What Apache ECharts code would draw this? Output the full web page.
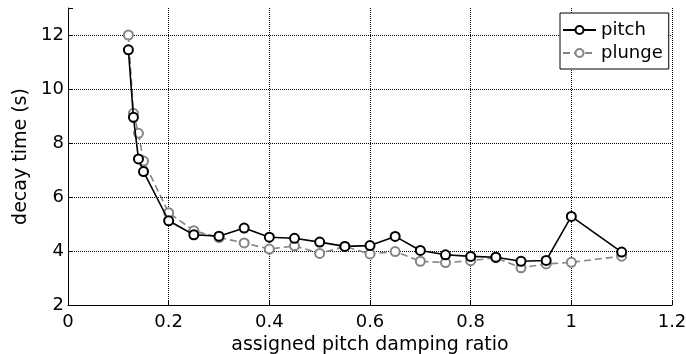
<!DOCTYPE html>
<html><head><meta charset="utf-8">
<script src="https://cdn.jsdelivr.net/npm/echarts@6/dist/echarts.min.js"></script>
<style>html,body{margin:0;padding:0;background:#fff}#c{width:686px;height:354px}</style>
</head><body><div id="c"></div>
<script>
var pitchX = [0.12, 0.13, 0.14, 0.15, 0.2, 0.25, 0.3, 0.35, 0.4, 0.45, 0.5, 0.55, 0.6, 0.65, 0.7, 0.75, 0.8, 0.85, 0.9, 0.95, 1.0, 1.1];
var pitchY = [11.45, 8.95, 7.41, 6.94, 5.12, 4.6, 4.55, 4.85, 4.51, 4.47, 4.33, 4.17, 4.2, 4.54, 4.02, 3.86, 3.8, 3.77, 3.62, 3.65, 5.28, 3.96];
var plungeX = [0.12, 0.13, 0.14, 0.15, 0.2, 0.25, 0.3, 0.35, 0.4, 0.45, 0.5, 0.55, 0.6, 0.65, 0.7, 0.75, 0.8, 0.85, 0.9, 0.95, 1.0, 1.1];
var plungeY = [12.0, 9.1, 8.36, 7.33, 5.42, 4.75, 4.5, 4.3, 4.07, 4.19, 3.91, 4.17, 3.89, 3.98, 3.62, 3.57, 3.64, 3.75, 3.38, 3.52, 3.58, 3.81];
var xName = 'assigned pitch damping ratio';
var yName = 'decay time (s)';

function pairs(xs, ys){ return xs.map(function(x,i){ return [x, ys[i]]; }); }
var font = 'DejaVu Sans, Arial, sans-serif';
var chart = echarts.init(document.getElementById('c'), null, {renderer:'canvas'});
chart.setOption({
  animation:false,
  backgroundColor:'#fff',
  grid:{left:68, right:14, top:8, bottom:49, containLabel:false, outerBoundsMode:'none'},
  legend:{
    orient:'vertical', left:560, top:13,
    backgroundColor:'#fff', borderColor:'#000', borderWidth:1,
    padding:[7,6,6,2], itemGap:3, itemWidth:33, itemHeight:10,
    textStyle:{fontFamily:font, fontSize:18, lineHeight:20, color:'#000'},
    data:['pitch','plunge']
  },
  xAxis:{
    type:'value', min:0, max:1.2, interval:0.2,
    name:xName, nameLocation:'middle', nameGap:26,
    nameTextStyle:{fontFamily:font, fontSize:19, color:'#000'},
    axisLine:{show:true, onZero:false, lineStyle:{color:'#000', width:1}},
    axisTick:{show:true, inside:true, length:5, lineStyle:{color:'#000'}},
    axisLabel:{fontFamily:font, fontSize:18, color:'#000', margin:8},
    splitLine:{show:true, showMinLine:false, lineStyle:{color:'#000', type:[1,1], width:1}}
  },
  yAxis:{
    type:'value', min:2, max:13, interval:2,
    name:yName, nameLocation:'middle', nameGap:35, nameRotate:90,
    nameTextStyle:{fontFamily:font, fontSize:19, color:'#000'},
    axisLine:{show:true, onZero:false, lineStyle:{color:'#000', width:1}},
    axisTick:{show:true, inside:true, length:5, lineStyle:{color:'#000'}},
    axisLabel:{fontFamily:font, fontSize:18, color:'#000', margin:4,
      formatter:function(v){ return (v===13)?'':String(v); }},
    splitLine:{show:true, showMinLine:false, showMaxLine:false, lineStyle:{color:'#000', type:[1,1], width:1}}
  },
  series:[
    {name:'pitch', type:'line', data:pairs(pitchX,pitchY), symbol:'emptyCircle', symbolSize:9,
     lineStyle:{color:'#000', width:1.6}, itemStyle:{color:'#000', borderColor:'#000', borderWidth:1.6}, z:3},
    {name:'plunge', type:'line', data:pairs(plungeX,plungeY), symbol:'emptyCircle', symbolSize:9,
     lineStyle:{color:'#858585', width:1.6, type:[7,4]}, itemStyle:{color:'#858585', borderColor:'#858585', borderWidth:1.6}, z:2}
  ]
});
</script></body></html>
